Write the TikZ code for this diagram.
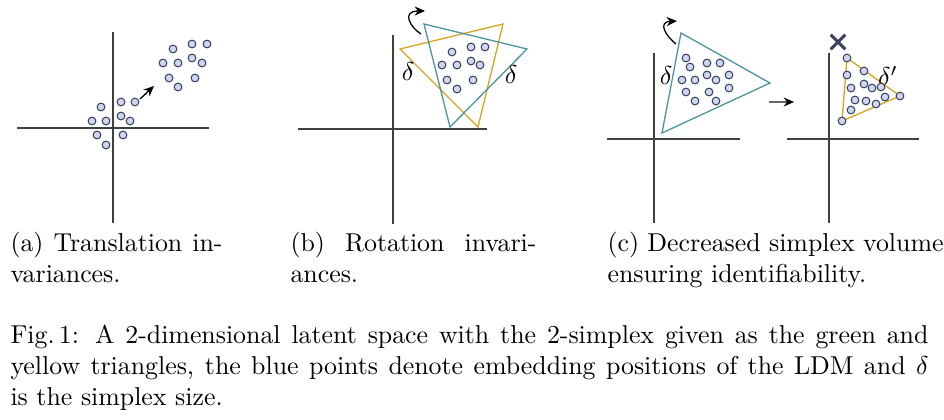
\documentclass[tikz,border=0pt]{standalone}
\usepackage{tikz}
\usetikzlibrary{arrows.meta,shapes.misc}
\definecolor{simteal}{RGB}{76,148,155}
\definecolor{simgold}{RGB}{214,164,30}
\definecolor{ptfill}{RGB}{205,215,240}
\definecolor{ptline}{RGB}{60,65,95}
\tikzstyle{axis} = [draw=black!75, line width=0.6pt]
\tikzstyle{pt} = [circle, draw=ptline, fill=ptfill, line width=0.4pt, inner sep=0pt, minimum size=3pt]
\tikzstyle{simA} = [draw=simteal, line width=0.5pt]
\tikzstyle{simB} = [draw=simgold, line width=0.5pt]
\tikzstyle{capt} = [anchor=north west, inner sep=0pt, align=justify]
\tikzstyle{move} = [-{Stealth[length=4pt,width=3.5pt,black]}, line width=0.5pt]

\begin{document}
\begin{tikzpicture}[x=0.0136cm, y=-0.0136cm]
        \useasboundingbox (0,0) rectangle (944,420);
        % (a) translation
        \draw[axis] (113,32) -- (113,223);
        \draw[axis] (17,128) -- (209,128);
        \foreach \x/\y [count=\i] in {101/107,92/121,106/121,121/102,135/102,121/116,130/121,97/135,123/135,106/145,
                173/49,192/44,207/44,163/63,178/63,192/58,202/63,169/78,195/78,178/87}
            \node[pt] (pa\i) at (\x,\y) {};
        \coordinate (ta) at (140,99);
        \coordinate (tb) at (154,86);
        \draw[move, black] (ta) -- (tb);
        % (b) rotation
        \draw[axis] (393,35) -- (393,224);
        \draw[axis] (298,129) -- (487,129);
        \coordinate (y1) at (400,49);
        \coordinate (y2) at (503,24);
        \coordinate (y3) at (478,127);
        \coordinate (g1) at (424,24);
        \coordinate (g2) at (527,49);
        \coordinate (g3) at (450,127);
        \draw[simB] (y1) -- (y2) -- (y3) -- cycle;
        \draw[simA] (g1) -- (g2) -- (g3) -- cycle;
        \node (db1) at (408,72) {$\delta$};
        \node (db2) at (511,75) {$\delta$};
        \foreach \x/\y [count=\i] in {452/52,471/47,485/47,442/65,457/65,471/61,480/65,447/80,473/80,457/89}
            \node[pt] (pb\i) at (\x,\y) {};
        \coordinate (rb1) at (421,34);
        \coordinate (rb2) at (425,11);
        \draw[move] (rb1) .. controls (410,27) and (401,11) .. (rb2);
        % (c) decreased volume
        \draw[axis] (654,53) -- (654,223);
        \draw[axis] (607,139) -- (740,139);
        \coordinate (c1) at (681,33);
        \coordinate (c2) at (770,83);
        \coordinate (c3) at (662,133);
        \draw[simA] (c1) -- (c2) -- (c3) -- cycle;
        \node (dc1) at (666,76) {$\delta$};
        \foreach \x/\y [count=\i] in {686/58,690/67,707/63,720/63,682/80,695/80,707/75,716/80,729/75,686/92,709/92,729/88,695/101,716/101}
            \node[pt] (pc\i) at (\x,\y) {};
        \coordinate (rc1) at (676,44);
        \coordinate (rc2) at (677,21);
        \draw[move] (rc1) .. controls (666,36) and (657,22) .. (rc2);
        \coordinate (sa) at (769,102);
        \coordinate (sb) at (794,102);
        \draw[move, draw=black!60] (sa) -- (sb);
        \draw[axis] (829,53) -- (829,223);
        \draw[axis] (787,139) -- (919,139);
        \node[cross out, draw=ptline, line width=1.2pt, minimum size=4.5pt, inner sep=0pt] (bad) at (838,42) {};
        \coordinate (d1) at (847,58);
        \coordinate (d2) at (900,96);
        \coordinate (d3) at (842,121);
        \draw[simB] (d1) -- (d2) -- (d3) -- cycle;
        \node (dc2) at (888,76) {$\delta'$};
        \foreach \v [count=\i] in {d1,d2,d3}
            \node[pt] (pv\i) at (\v) {};
        \foreach \x/\y [count=\i] in {847/75,864/71,851/88,864/84,872/88,881/87,885/97,855/100,866/101,876/104,851/110}
            \node[pt] (pd\i) at (\x,\y) {};
        % captions
        \node[capt, text width=212*0.0136cm] (capa) at (10,232) {(a) Translation in-\linebreak variances.};
        \node[capt, text width=246*0.0136cm] (capb) at (290,232) {(b) Rotation invari-\linebreak ances.};
        \node[capt, text width=336*0.0136cm] (capc) at (607,232) {(c) Decreased simplex volume\\ ensuring identifiability.};
        \node[capt, text width=918*0.0136cm] (fig) at (10,324) {Fig.\,1: A 2-dimensional latent space with the 2-simplex given as the green and\linebreak yellow triangles, the blue points denote embedding positions of the LDM and $\delta$\linebreak is the simplex size.};
    \end{tikzpicture}
\end{document}
